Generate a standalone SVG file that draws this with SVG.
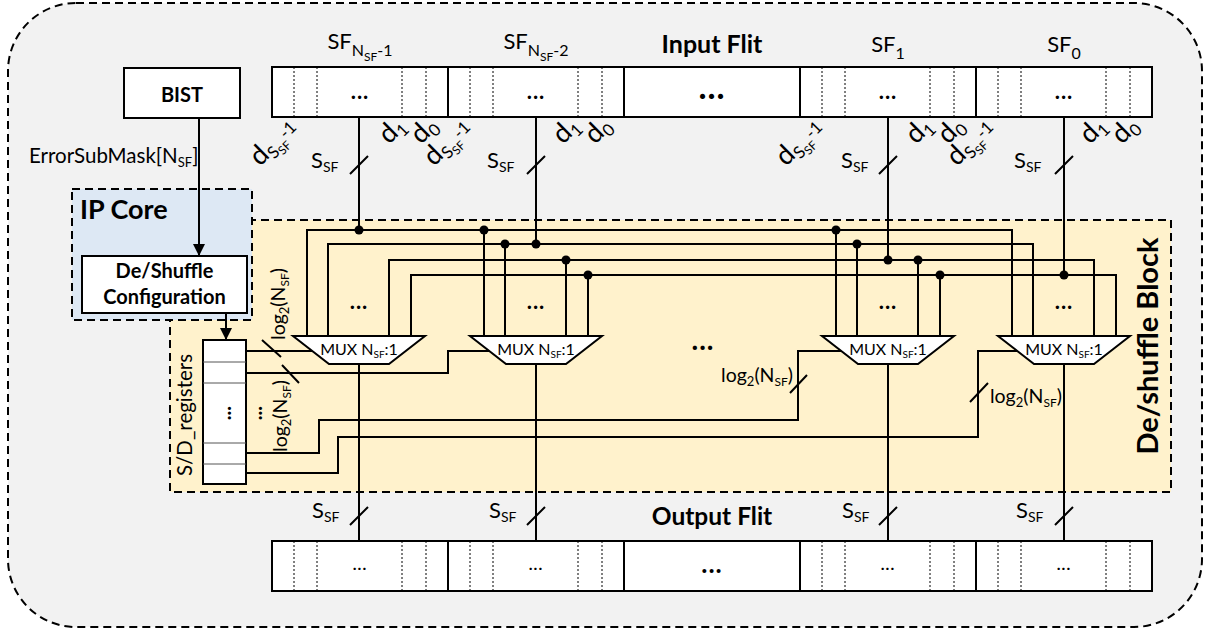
<svg xmlns="http://www.w3.org/2000/svg" width="1210" height="631" viewBox="0 0 1210 631">
<defs>
<style>
.t{font-family:Lato,'Liberation Sans',sans-serif;fill:#000}
.b{font-weight:bold}
.ln{stroke:#000;stroke-width:2;fill:none}
.thin{stroke:#555;stroke-width:1;fill:none}
.dotl{stroke:#000;stroke-width:1;stroke-dasharray:2,2;fill:none}
.dash{stroke:#000;stroke-width:2;stroke-dasharray:8,5}
.box{fill:#fff;stroke:#000;stroke-width:2}
.mux{fill:#fff;stroke:#000;stroke-width:2}
</style>
<marker id="arr" markerUnits="userSpaceOnUse" markerWidth="12" markerHeight="12" refX="12" refY="6" orient="auto">
<path d="M0,0 L12,6 L0,12 z" fill="#000"/>
</marker>
</defs>

<g id="frame">
<rect x="8" y="3" width="1194" height="624" rx="68" ry="68" fill="#f2f2f2" class="dash"/>
</g>

<g id="deshuffle-block">
<rect x="170" y="220" width="1001" height="272" fill="#fff2cc" class="dash"/>
<text class="t b" font-size="29" text-anchor="middle" transform="translate(1158,346) rotate(-90)">De/shuffle Block</text>
</g>

<g id="ip-core">
<rect x="72" y="189" width="180" height="131" fill="#dde8f4" class="dash"/>
<text class="t b" x="80" y="219" font-size="27">IP Core</text>
</g>

<g id="config">
<rect x="82" y="256" width="165" height="57" class="box"/>
<text class="t b" x="164.5" y="278" font-size="20" text-anchor="middle">De/Shuffle</text>
<text class="t b" x="164.5" y="304" font-size="20" text-anchor="middle">Configuration</text>
</g>

<g id="bist">
<rect x="124" y="68" width="116" height="50" class="box"/>
<text class="t b" x="182" y="102" font-size="20" text-anchor="middle">BIST</text>
</g>

<g id="input-flit">
<rect x="272" y="67" width="880" height="50" class="box"/>
<path class="ln" d="M448,67V117M624,67V117M800,67V117M976,67V117"/>
<path class="dotl" d="M294,67V117M317,67V117M402,67V117M426,67V117M470,67V117M493,67V117M578,67V117M602,67V117M822,67V117M845,67V117M930,67V117M954,67V117M998,67V117M1021,67V117M1106,67V117M1130,67V117"/>
<g class="t b" font-size="22" text-anchor="middle" letter-spacing="1">
<text x="360" y="99">...</text><text x="536" y="99">...</text><text x="888" y="99">...</text><text x="1064" y="99">...</text>
</g>
<text class="t b" x="712" y="99" font-size="34" text-anchor="middle" letter-spacing="1">...</text>
</g>

<g id="output-flit">
<rect x="272" y="541" width="880" height="50" class="box"/>
<path class="ln" d="M448,541V591M624,541V591M800,541V591M976,541V591"/>
<path class="dotl" d="M294,541V591M317,541V591M402,541V591M426,541V591M470,541V591M493,541V591M578,541V591M602,541V591M822,541V591M845,541V591M930,541V591M954,541V591M998,541V591M1021,541V591M1106,541V591M1130,541V591"/>
<g class="t b" font-size="16" text-anchor="middle" letter-spacing="1">
<text x="360" y="570">...</text><text x="536" y="570">...</text><text x="888" y="570">...</text><text x="1064" y="570">...</text>
</g>
<text class="t b" x="712" y="573" font-size="26" text-anchor="middle" letter-spacing="1">...</text>
</g>

<g id="registers">
<rect x="203" y="340" width="43" height="144" class="box"/>
<path class="thin" d="M203,362H246M203,383H246M203,443H246M203,464H246"/>
<text class="t b" font-size="20" text-anchor="middle" transform="translate(231,413) rotate(-90)">...</text>
<text class="t b" font-size="20" text-anchor="middle" transform="translate(262,413) rotate(-90)">...</text>
<text class="t" font-size="20.5" text-anchor="middle" transform="translate(192,415) rotate(-90)">S/D_registers</text>
</g>

<g id="connectors">
<path class="ln" d="M199,118V256" marker-end="url(#arr)"/>
<path class="ln" d="M226,313V340" marker-end="url(#arr)"/>
<path class="ln" d="M359,117V230M536,117V244M888,117V260M1064,117V275"/>
<path class="ln" d="M307,336V230H1012V336M328,336V244H1033V336M389,336V260H1094V336M411,336V275H1116V336"/>
<path class="ln" d="M484,230V336M505,244V336M566,260V336M588,275V336M836,230V336M857,244V336M918,260V336M940,275V336"/>
<g fill="#000">
<circle cx="359" cy="230" r="4.5"/><circle cx="484" cy="230" r="4.5"/><circle cx="836" cy="230" r="4.5"/>
<circle cx="505" cy="244" r="4.5"/><circle cx="536" cy="244" r="4.5"/><circle cx="857" cy="244" r="4.5"/>
<circle cx="566" cy="260" r="4.5"/><circle cx="888" cy="260" r="4.5"/><circle cx="918" cy="260" r="4.5"/>
<circle cx="588" cy="275" r="4.5"/><circle cx="940" cy="275" r="4.5"/><circle cx="1064" cy="275" r="4.5"/>
</g>
<path class="ln" d="M359,364V541M536,364V541M888,364V541M1064,364V541"/>
<path class="ln" d="M246,351H312.5M246,373H448V351H489.5M246,453H319V420H798V351H841.5M246,473H338V437H978V351H1017.5"/>
<path class="ln" d="M262,340L281,357M282,365L299,383M790,393L807,375M970,402L988,383"/>
<path class="ln" d="M350,174L368,156M527,174L545,156M879,174L897,156M1055,174L1073,156"/>
<path class="ln" d="M350,525L368,507M527,525L545,507M879,525L897,507M1055,525L1073,507"/>
</g>

<g id="mux1"><path class="mux" d="M293,336H425L389,364H329Z"/><text class="t" x="359" y="355" font-size="16" text-anchor="middle">MUX N<tspan font-size="10" dy="3">SF</tspan><tspan dy="-3">:1</tspan></text><text class="t b" x="359" y="309" font-size="22" text-anchor="middle" letter-spacing="1">...</text></g>
<g id="mux2"><path class="mux" d="M470,336H602L566,364H506Z"/><text class="t" x="536" y="355" font-size="16" text-anchor="middle">MUX N<tspan font-size="10" dy="3">SF</tspan><tspan dy="-3">:1</tspan></text><text class="t b" x="536" y="309" font-size="22" text-anchor="middle" letter-spacing="1">...</text></g>
<g id="mux3"><path class="mux" d="M822,336H954L918,364H858Z"/><text class="t" x="888" y="355" font-size="16" text-anchor="middle">MUX N<tspan font-size="10" dy="3">SF</tspan><tspan dy="-3">:1</tspan></text><text class="t b" x="888" y="309" font-size="22" text-anchor="middle" letter-spacing="1">...</text></g>
<g id="mux4"><path class="mux" d="M998,336H1130L1094,364H1034Z"/><text class="t" x="1064" y="355" font-size="16" text-anchor="middle">MUX N<tspan font-size="10" dy="3">SF</tspan><tspan dy="-3">:1</tspan></text><text class="t b" x="1064" y="309" font-size="22" text-anchor="middle" letter-spacing="1">...</text></g>
<text class="t b" x="703" y="350" font-size="28" text-anchor="middle" letter-spacing="1">...</text>

<g id="labels" class="t">
<text x="29" y="163" font-size="20.5">ErrorSubMask[N<tspan font-size="13" dy="4">SF</tspan><tspan dy="-4">]</tspan></text>
<g font-size="22" text-anchor="middle">
<text x="360" y="49">SF<tspan font-size="16" dy="7">N</tspan><tspan font-size="12" dy="5">SF</tspan><tspan font-size="16" dy="-5">-1</tspan></text>
<text x="536" y="49">SF<tspan font-size="16" dy="7">N</tspan><tspan font-size="12" dy="5">SF</tspan><tspan font-size="16" dy="-5">-2</tspan></text>
<text x="888" y="52">SF<tspan font-size="16" dy="7">1</tspan></text>
<text x="1064" y="52">SF<tspan font-size="16" dy="7">0</tspan></text>
</g>
<text class="b" x="712" y="53" font-size="25" text-anchor="middle">Input Flit</text>
<text class="b" x="712" y="525" font-size="24.5" text-anchor="middle">Output Flit</text>
<g font-size="22">
<text x="311" y="168">S<tspan font-size="14" dy="4">SF</tspan></text>
<text x="487" y="168">S<tspan font-size="14" dy="4">SF</tspan></text>
<text x="841" y="168">S<tspan font-size="14" dy="4">SF</tspan></text>
<text x="1014" y="168">S<tspan font-size="14" dy="4">SF</tspan></text>
<text x="312" y="518">S<tspan font-size="14" dy="4">SF</tspan></text>
<text x="489" y="518">S<tspan font-size="14" dy="4">SF</tspan></text>
<text x="842" y="518">S<tspan font-size="14" dy="4">SF</tspan></text>
<text x="1016" y="518">S<tspan font-size="14" dy="4">SF</tspan></text>
</g>
<g font-size="27">
<text transform="translate(260,167) rotate(-45)">d<tspan font-size="17" dy="5">S</tspan><tspan font-size="12" dy="3">SF</tspan><tspan font-size="17" dy="-9">-1</tspan></text>
<text transform="translate(434,167) rotate(-45)">d<tspan font-size="17" dy="5">S</tspan><tspan font-size="12" dy="3">SF</tspan><tspan font-size="17" dy="-9">-1</tspan></text>
<text transform="translate(786,167) rotate(-45)">d<tspan font-size="17" dy="5">S</tspan><tspan font-size="12" dy="3">SF</tspan><tspan font-size="17" dy="-9">-1</tspan></text>
<text transform="translate(957,167) rotate(-45)">d<tspan font-size="17" dy="5">S</tspan><tspan font-size="12" dy="3">SF</tspan><tspan font-size="17" dy="-9">-1</tspan></text>
<text transform="translate(389,145) rotate(-45)">d<tspan font-size="17" dy="5">1</tspan></text>
<text transform="translate(421,145) rotate(-45)">d<tspan font-size="17" dy="5">0</tspan></text>
<text transform="translate(563,145) rotate(-45)">d<tspan font-size="17" dy="5">1</tspan></text>
<text transform="translate(595,145) rotate(-45)">d<tspan font-size="17" dy="5">0</tspan></text>
<text transform="translate(916,145) rotate(-45)">d<tspan font-size="17" dy="5">1</tspan></text>
<text transform="translate(948,145) rotate(-45)">d<tspan font-size="17" dy="5">0</tspan></text>
<text transform="translate(1090,145) rotate(-45)">d<tspan font-size="17" dy="5">1</tspan></text>
<text transform="translate(1122,145) rotate(-45)">d<tspan font-size="17" dy="5">0</tspan></text>
</g>
<g font-size="19.5">
<text text-anchor="middle" transform="translate(285,304) rotate(-90)">log<tspan font-size="13" dy="4">2</tspan><tspan dy="-4">(N</tspan><tspan font-size="12" dy="4">SF</tspan><tspan dy="-4">)</tspan></text>
<text text-anchor="middle" transform="translate(287,416) rotate(-90)">log<tspan font-size="13" dy="4">2</tspan><tspan dy="-4">(N</tspan><tspan font-size="12" dy="4">SF</tspan><tspan dy="-4">)</tspan></text>
<text x="793" y="382" text-anchor="end">log<tspan font-size="13" dy="4">2</tspan><tspan dy="-4">(N</tspan><tspan font-size="12" dy="4">SF</tspan><tspan dy="-4">)</tspan></text>
<text x="990" y="403">log<tspan font-size="13" dy="4">2</tspan><tspan dy="-4">(N</tspan><tspan font-size="12" dy="4">SF</tspan><tspan dy="-4">)</tspan></text>
</g>
</g>
</svg>
